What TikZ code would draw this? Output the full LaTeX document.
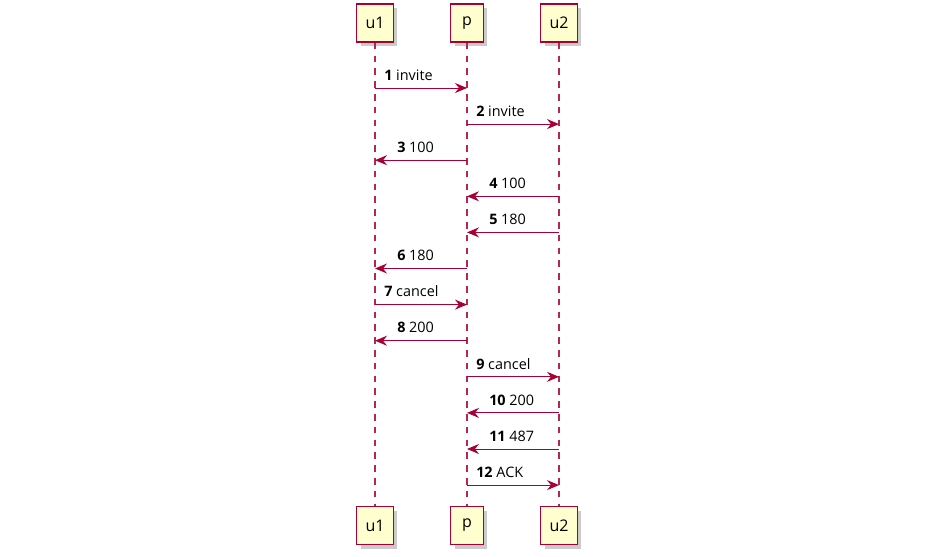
\documentclass[tikz,border=0pt]{standalone}
\usepackage{fontspec}
\setmainfont{Open Sans}
\usetikzlibrary{arrows.meta, shadows, calc}

\definecolor{umlred}{HTML}{A80036}
\definecolor{umlfill}{HTML}{FEFECE}

\begin{document}
\begin{tikzpicture}[
    x=0.75pt, y=-0.75pt,
    actor/.style={draw=umlred, fill=umlfill, line width=1.1pt, minimum height=28.5pt, minimum width=24.5pt,
        inner xsep=6.6pt, font=\fontsize{12}{14}\selectfont,
        drop shadow={shadow xshift=3pt, shadow yshift=-3pt, fill=black!45, opacity=0.45}},
    life/.style={draw=umlred!85, line width=0.8pt, dash pattern=on 5pt off 4.6pt},
    msg/.style={draw=umlred, line width=0.75pt, -{Stealth[length=9pt, width=7.5pt, inset=3pt]}},
    lbl/.style={anchor=base west, inner sep=0pt, font=\fontsize{10.8}{12}\selectfont}
]
\useasboundingbox (0,0) rectangle (933,557);

% participants, top and bottom
\node[actor] (u1top) at (375,23) {u1};
\node[actor] (ptop) at (467,23) {p};
\node[actor] (u2top) at (559,23) {u2};
\node[actor] (u1bot) at (375,525.5) {u1};
\node[actor] (pbot) at (467,525.5) {p};
\node[actor] (u2bot) at (559,525.5) {u2};

% lifelines
\draw[life] (u1top) -- (u1bot);
\draw[life] (ptop) -- (pbot);
\draw[life] (u2top) -- (u2bot);

% messages
\foreach \k/\from/\to/\gap/\txt in {
    1/u1/p/9/invite, 2/p/u2/9/invite, 3/p/u1/22/100, 4/u2/p/22/100,
    5/u2/p/22/180, 6/p/u1/22/180, 7/u1/p/9/cancel, 8/p/u1/22/200,
    9/p/u2/9/cancel, 10/u2/p/22/200, 11/u2/p/22/487, 12/p/u2/9/ACK} {
  \coordinate (s\k) at ($(\from top) + (0,{65+(\k-1)*36.1})$);
  \coordinate (t\k) at ($(\to top) + (0,{65+(\k-1)*36.1})$);
  \draw[msg] (s\k) -- (t\k);
  \path let \p1=(s\k), \p2=(t\k) in
    node[lbl] at ({min(\x1,\x2)+\gap*0.75pt}, {\y1+5.8pt}) {\textbf{\k} \txt};
}

\end{tikzpicture}
\end{document}
